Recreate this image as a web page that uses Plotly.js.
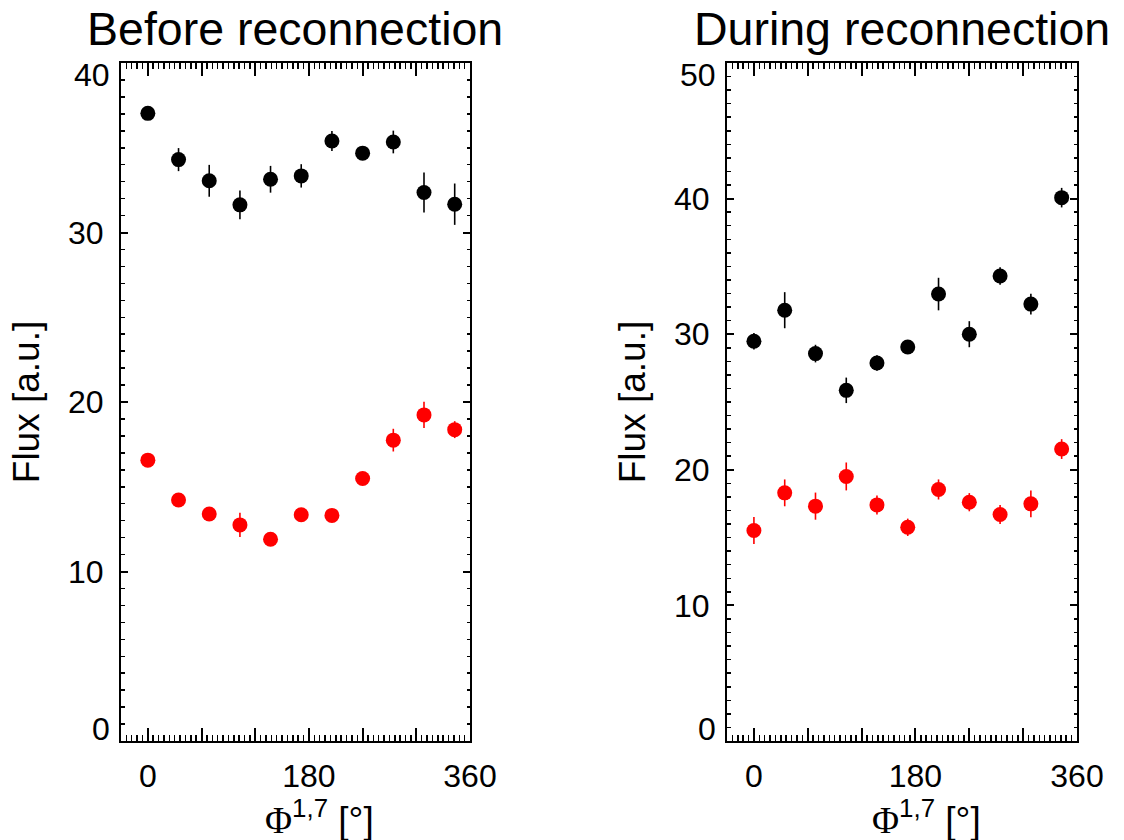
<!DOCTYPE html>
<html>
<head>
<meta charset="utf-8">
<script src="https://cdn.plot.ly/plotly-3.0.1.min.js"></script>
<style>html,body{margin:0;padding:0;background:#fff;}#chart{width:1124px;height:840px;}</style>
</head>
<body>
<div id="chart"></div>
<script>
// Phase angles (degrees)
const phase = [0, 34.3, 68.6, 102.9, 137.1, 171.4, 205.7, 240, 274.3, 308.6, 342.9];

// Before reconnection
const beforeBlack    = [37.03, 34.30, 33.05, 31.63, 33.14, 33.34, 35.40, 34.68, 35.34, 32.36, 31.67];
const beforeBlackErr = [0.2, 0.68, 0.94, 0.85, 0.79, 0.69, 0.59, 0.3, 0.67, 1.18, 1.22];
const beforeRed      = [16.57, 14.22, 13.39, 12.75, 11.90, 13.35, 13.31, 15.49, 17.75, 19.24, 18.37];
const beforeRedErr   = [0.3, 0.3, 0.3, 0.71, 0.3, 0.3, 0.3, 0.3, 0.67, 0.78, 0.5];

// During reconnection
const duringBlack    = [29.48, 31.77, 28.57, 25.86, 27.88, 29.06, 32.96, 30.00, 34.29, 32.22, 40.07];
const duringBlackErr = [0.6, 1.33, 0.65, 0.94, 0.57, 0.4, 1.2, 0.96, 0.65, 0.76, 0.72];
const duringRed      = [15.52, 18.30, 17.32, 19.51, 17.41, 15.76, 18.55, 17.61, 16.70, 17.49, 21.53];
const duringRedErr   = [0.99, 0.99, 1.0, 1.03, 0.7, 0.64, 0.74, 0.67, 0.7, 0.99, 0.73];

const panelTitles = ["Before reconnection", "During reconnection"];
const xTickVals = [0, 60, 120, 180, 240, 300, 360];
const xTickText = ["0", "", "", "180", "", "", "360"];
const yTickVals1 = [0, 10, 20, 30, 40];
const yTickVals2 = [0, 10, 20, 30, 40, 50];
const xTitle = '<span style="font-family:Liberation Serif, Times New Roman, serif">Φ</span><sup>1,7</sup> [°]';
const yTitle = "Flux [a.u.]";

const FONT = "Liberation Sans, Arial, Helvetica, sans-serif";
const TICKSIZE = 32;

function trace(x, y, err, color, xa, ya) {
  return {
    type: "scatter", mode: "markers", x: x, y: y, xaxis: xa, yaxis: ya,
    marker: {color: color, size: 15, line: {width: 0}},
    error_y: {type: "data", array: err, visible: true, color: color, thickness: 1.6, width: 0},
    showlegend: false, hoverinfo: "x+y"
  };
}

const data = [
  trace(phase, beforeBlack, beforeBlackErr, "#000000", "x", "y"),
  trace(phase, beforeRed, beforeRedErr, "#ff0000", "x", "y"),
  trace(phase, duringBlack, duringBlackErr, "#000000", "x2", "y2"),
  trace(phase, duringRed, duringRedErr, "#ff0000", "x2", "y2")
];

function xaxis(domain, anchor) {
  return {
    domain: domain, anchor: anchor, range: [-30, 360], autorange: false,
    tickmode: "array", tickvals: xTickVals, ticktext: xTickText,
    ticks: "inside", ticklen: 13, tickwidth: 2, tickcolor: "#000",
    minor: {tickmode: "linear", tick0: 0, dtick: 6, ticks: "inside", ticklen: 6, tickwidth: 1.5, tickcolor: "#000"},
    showline: true, linewidth: 2, linecolor: "#000", mirror: "ticks",
    showgrid: false, zeroline: false, automargin: false,
    tickfont: {family: FONT, size: TICKSIZE, color: "#000"},
    ticklabelstandoff: 6
  };
}
function yaxis(domain, anchor, vals) {
  const top = vals[vals.length - 1];
  // end labels are drawn as annotations, shifted inside the axis range
  const txt = vals.map((v, i) => (i === 0 || i === vals.length - 1) ? "" : String(v));
  return {
    domain: domain, anchor: anchor, range: [0, top], autorange: false,
    tickmode: "array", tickvals: vals, ticktext: txt,
    ticks: "inside", ticklen: 7, tickwidth: 2, tickcolor: "#000",
    minor: {tickmode: "linear", tick0: 0, dtick: 1, ticks: "inside", ticklen: 3.5, tickwidth: 1.5, tickcolor: "#000"},
    showline: true, linewidth: 2, linecolor: "#000", mirror: "ticks",
    showgrid: false, zeroline: false, automargin: false,
    tickfont: {family: FONT, size: TICKSIZE, color: "#000"},
    ticklabelstandoff: 9,
    title: {text: yTitle, font: {family: FONT, size: 37, color: "#000"}, standoff: 17}
  };
}

const xd1 = [121/1124, 470/1124], xd2 = [727/1124, 1077/1124];
const yd = [(840-741)/840, (840-63)/840];

function endLabel(xref, yref, v, shift) {
  return {text: String(v), xref: xref, yref: yref, x: 0, y: v, xanchor: "right", yanchor: "middle",
          xshift: -9, yshift: shift, showarrow: false,
          font: {family: FONT, size: TICKSIZE, color: "#000"}};
}
function xTitleAnn(xref) {
  return {text: xTitle, xref: xref, yref: "paper", x: 0.5, y: 1 - 817/840, xanchor: "center", yanchor: "middle",
          xshift: 24, showarrow: false, font: {family: FONT, size: 37, color: "#000"}};
}
function panelTitle(t, d) {
  return {text: t, xref: "paper", yref: "paper", x: (d[0]+d[1])/2, y: 1 - 29/840,
          xanchor: "center", yanchor: "middle", showarrow: false, font: {family: FONT, size: 46.5, color: "#000"}};
}

const layout = {
  width: 1124, height: 840,
  margin: {l: 0, r: 0, t: 0, b: 0, pad: 0},
  paper_bgcolor: "#fff", plot_bgcolor: "#fff",
  font: {family: FONT, color: "#000"},
  xaxis: xaxis(xd1, "y"),
  yaxis: yaxis(yd, "x", yTickVals1),
  xaxis2: xaxis(xd2, "y2"),
  yaxis2: yaxis(yd, "x2", yTickVals2),
  annotations: [
    panelTitle(panelTitles[0], xd1),
    panelTitle(panelTitles[1], xd2),
    xTitleAnn("x domain"),
    xTitleAnn("x2 domain"),
    endLabel("x domain", "y", yTickVals1[0], 12),
    endLabel("x domain", "y", yTickVals1[yTickVals1.length - 1], -12),
    endLabel("x2 domain", "y2", yTickVals2[0], 12),
    endLabel("x2 domain", "y2", yTickVals2[yTickVals2.length - 1], -12)
  ]
};

Plotly.newPlot("chart", data, layout, {displayModeBar: false, staticPlot: true});
</script>
</body>
</html>
